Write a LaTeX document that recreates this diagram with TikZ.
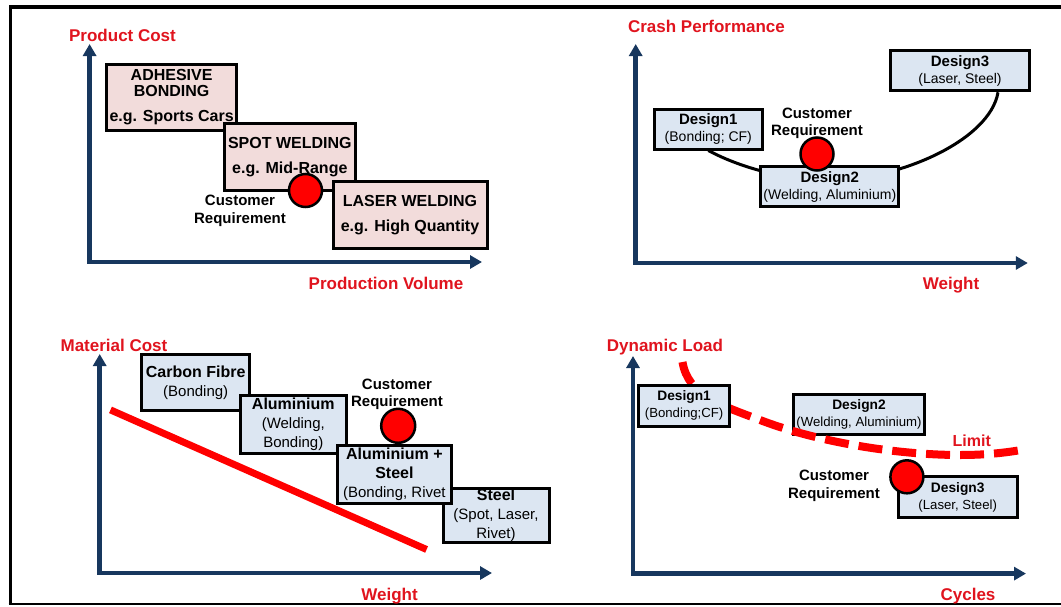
\documentclass[tikz,border=0pt]{standalone}
\usepackage{fontspec}
\setmainfont{Liberation Sans}
\usetikzlibrary{arrows.meta}
\definecolor{axisblue}{HTML}{17375E}
\definecolor{labelred}{HTML}{E0141E}
\definecolor{reqred}{HTML}{FF0000}
\definecolor{linered}{HTML}{FF0000}
\definecolor{pinkfill}{HTML}{F2DCDB}
\definecolor{bluefill}{HTML}{DCE6F2}
\newcommand\regtext[2]{{\mdseries\fontsize{#1}{#1}\selectfont #2}}
\tikzset{
  axis/.style={draw=axisblue, line width=4.5pt, line join=miter,
    {Triangle[length=12pt,width=13pt]}-{Triangle[length=12pt,width=13pt]}},
  axlabel/.style={text=labelred, font=\bfseries\fontsize{17}{20}\selectfont,
    inner sep=0pt, text height=12.2pt, text depth=0pt},
  boxbase/.style={draw=black, line width=3pt, align=center, inner sep=0pt},
  pinkbox/.style={boxbase, fill=pinkfill, font=\bfseries\fontsize{16}{16.5}\selectfont},
  bluebox/.style={boxbase, fill=bluefill},
  dbox/.style={bluebox, font=\bfseries\fontsize{15}{17}\selectfont},
  mbox/.style={bluebox, font=\bfseries\fontsize{16}{19}\selectfont},
  qbox/.style={bluebox, font=\bfseries\fontsize{13.75}{16.8}\selectfont},
  reqdot/.style={circle, draw=black, line width=2.5pt, fill=reqred,
    minimum size=33pt, inner sep=0pt},
  custtext/.style={align=center, inner sep=0pt, font=\bfseries\fontsize{15}{17.8}\selectfont},
  frameline/.style={draw=black, line width=3.5pt},
}
\begin{document}
\begin{tikzpicture}[x=1pt, y=-1pt]
\useasboundingbox (0,0) rectangle (1061,606);
% frame
\coordinate (ftl) at (10.3,7);
\coordinate (ftr) at (1063,7);
\coordinate (fbl) at (10.3,604);
\coordinate (fbr) at (1063,604);
\draw[frameline] (ftr) -- (ftl) -- (fbl);
\draw[draw=black, line width=2pt] (8.5,604) -- (fbr);

% ---------------- Quadrant 1 ----------------
\coordinate (a1o) at (89.6,262);
\coordinate (a1y) at (89.6,44);
\coordinate (a1x) at (482,262);
\draw[axis] (a1y) -- (a1o) -- (a1x);
\node[axlabel] (l1y) at (122.5,35.5) {Product Cost};
\node[axlabel] (l1x) at (386,283) {Production Volume};
\node[pinkbox, minimum width=130.2pt, minimum height=66.5pt] (adh) at (171.6,97.3)
  {ADHESIVE\\BONDING\\[8.5pt]e.g. Sports Cars};
\node[pinkbox, minimum width=130.5pt, minimum height=66.5pt] (spot) at (289.8,156.8)
  {SPOT WELDING\\[8.5pt]e.g. Mid-Range};
\node[pinkbox, minimum width=154pt, minimum height=67pt] (laser) at (410,215)
  {LASER WELDING\\[8pt]e.g. High Quantity};
\node[reqdot] (dot1) at (305.5,190.5) {};
\node[custtext] (cust1) at (240,210.8) {Customer\\Requirement};

% ---------------- Quadrant 2 ----------------
\coordinate (a2o) at (635.7,263);
\coordinate (a2y) at (635.7,44);
\coordinate (a2x) at (1027.8,263);
\draw[axis] (a2y) -- (a2o) -- (a2x);
\node[axlabel] (l2y) at (706.5,26.4) {Crash Performance};
\node[axlabel] (l2x) at (951,283.8) {Weight};
\node[dbox, minimum width=107.4pt, minimum height=40pt] (d1) at (708.3,129)
  {Design1\\\regtext{14}{(Bonding; CF)}};
\node[dbox, minimum width=139pt, minimum height=40pt] (d3) at (960,70.8)
  {Design3\\\regtext{14}{(Laser, Steel)}};
\coordinate (d3foot) at ([xshift=-33pt]d3.south east);
\coordinate (ubot) at (830,180);
\draw[black, line width=3pt] (d1.south) .. controls (745,170) and (790,180) .. (ubot)
  .. controls (900,180) and (990,140) .. (d3foot);
\node[dbox, minimum width=138pt, minimum height=40pt] (d2) at (829.8,186.6)
  {Design2\\\regtext{14}{(Welding, Aluminium)}};
\node[reqdot] (dot2) at (817,154) {};
\node[custtext] (cust2) at (817,123.4) {Customer\\Requirement};

% ---------------- Quadrant 3 ----------------
\coordinate (a3o) at (99.7,573);
\coordinate (a3y) at (99.7,354);
\coordinate (a3x) at (492,573);
\draw[axis] (a3y) -- (a3o) -- (a3x);
\node[axlabel] (l3y) at (114,345.6) {Material Cost};
\node[axlabel] (l3x) at (389.5,594) {Weight};
\coordinate (rl1) at (110.5,409.9);
\coordinate (rl2) at (426.6,549.5);
\draw[linered, line width=7pt] (rl1) -- (rl2);
\node[mbox, minimum width=107.5pt, minimum height=55.7pt] (cf) at (195.7,382.6)
  {Carbon Fibre\\\regtext{15}{(Bonding)}};
\node[mbox, minimum width=106.5pt, minimum height=58.5pt] (al) at (293.3,424.5)
  {Aluminium\\\regtext{15}{(Welding,}\\\regtext{15}{Bonding)}};
\node[mbox, minimum width=106pt, minimum height=54pt] (st) at (496,515.6)
  {Steel\\\regtext{15}{(Spot, Laser,}\\\regtext{15}{Rivet)}};
\node[mbox, minimum width=114pt, minimum height=58.5pt] (als) at (394.4,474.6)
  {Aluminium +\\Steel\\\regtext{15}{(Bonding, Rivet}};
\node[reqdot, minimum size=34pt] (dot3) at (398.2,425.8) {};
\node[custtext] (cust3) at (397,394.3) {Customer\\Requirement};

% ---------------- Quadrant 4 ----------------
\coordinate (a4o) at (633,573.6);
\coordinate (a4y) at (633,356);
\coordinate (a4x) at (1026,573.6);
\draw[axis] (a4y) -- (a4o) -- (a4x);
\node[axlabel] (l4y) at (665,345.7) {Dynamic Load};
\node[axlabel] (l4x) at (968,594.6) {Cycles};
\node[qbox, minimum width=131pt, minimum height=40.8pt] (e2) at (859,414.4)
  {Design2\\\regtext{13.2}{(Welding, Aluminium)}};
\coordinate (lim0) at (682.5,362);
\coordinate (lim1) at (760,420);
\coordinate (lim2) at (960,455);
\coordinate (lim3) at (1027,449);
\draw[linered, line width=8pt, dash pattern=on 24pt off 10pt]
  (lim0) .. controls (688,395) and (720,405) .. (lim1)
  .. controls (820,443) and (900,455) .. (lim2)
  .. controls (990,455) and (1010,452) .. (lim3);
\node[qbox, minimum width=91.4pt, minimum height=40.7pt] (e1) at (684.1,405.7)
  {Design1\\\regtext{13.2}{(Bonding;CF)}};
\node[qbox, minimum width=118.6pt, minimum height=41pt] (e3) at (957.7,497.2)
  {Design3\\\regtext{13.2}{(Laser, Steel)}};
\node[reqdot] (dot4) at (906.9,476.8) {};
\node[custtext] (cust4) at (834,486.2) {Customer\\Requirement};
\node[axlabel, font=\bfseries\fontsize{16}{18}\selectfont, text height=11.5pt] (limit) at (971.8,440.5) {Limit};
\end{tikzpicture}
\end{document}
